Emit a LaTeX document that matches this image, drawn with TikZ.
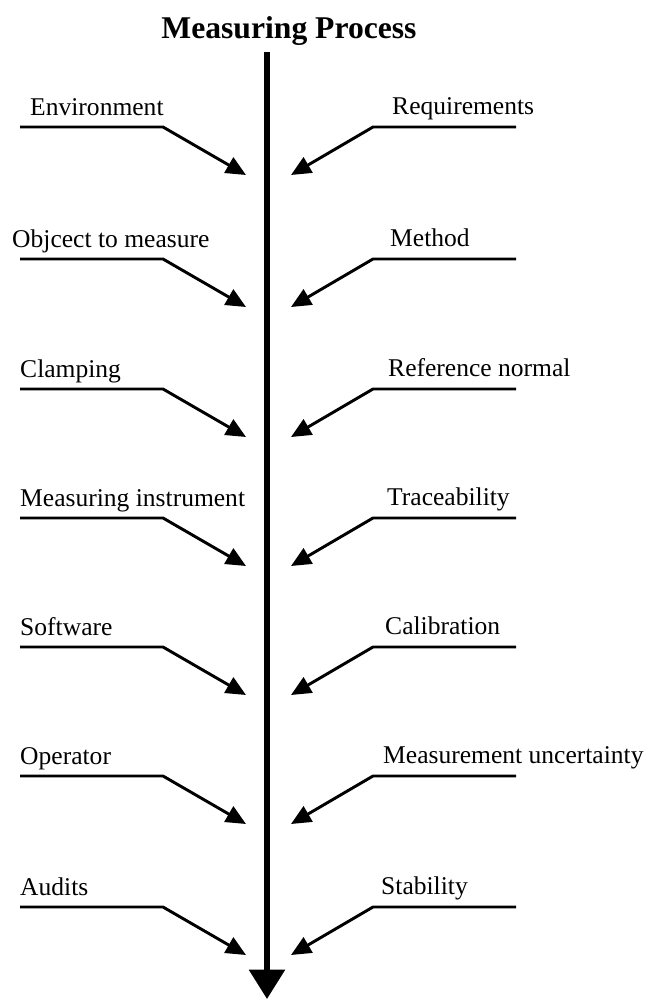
\documentclass[tikz,border=0pt]{standalone}
\usepackage{fontspec}
\setmainfont{Liberation Serif}
\usetikzlibrary{arrows.meta}

\tikzset{
    spine/.style={line width=4.3pt, -{Triangle[length=25pt,width=30pt]}},
    branch/.style={line width=2.5pt, -{Triangle[length=17pt,width=15pt]}},
    cause/.style={font=\fontsize{21.8}{24}\selectfont, anchor=base west, inner sep=0pt},
    heading/.style={font=\fontsize{27}{30}\selectfont\bfseries, anchor=base, inner sep=0pt}
}

\begin{document}
\begin{tikzpicture}[x=0.03cm,y=-0.03cm]
        \useasboundingbox (0,0) rectangle (646,999);

        \node[heading] (title) at (289,38) {Measuring Process};

        % main axis
        \coordinate (top) at (267,52);
        \coordinate (bottom) at (267,999);
        \draw[spine] (top) -- (bottom);

        % left side causes
        \foreach \i/\h/\lx/\txt in {1/127/30/Environment, 2/259/12/Objcect to measure,
                3/389/20/Clamping, 4/518/20/Measuring instrument, 5/647/20/Software,
                6/776/20/Operator, 7/907/20/Audits} {
            \node[cause] (lt\i) at (\lx,\h-12) {\txt};
            \coordinate (la\i) at (20,\h);
            \coordinate (lb\i) at (163,\h);
            \coordinate (lc\i) at (246,\h+48);
            \draw[branch] (la\i) -- (lb\i) -- (lc\i);
        }

        % right side causes
        \foreach \i/\h/\rx/\txt in {1/127/392/Requirements, 2/259/390/Method,
                3/389/388/Reference normal, 4/518/387/Traceability, 5/647/385/Calibration,
                6/776/383/Measurement uncertainty, 7/907/381/Stability} {
            \node[cause] (rt\i) at (\rx,\h-13) {\txt};
            \coordinate (ra\i) at (516,\h);
            \coordinate (rb\i) at (373,\h);
            \coordinate (rc\i) at (291,\h+48);
            \draw[branch] (ra\i) -- (rb\i) -- (rc\i);
        }
\end{tikzpicture}
\end{document}
